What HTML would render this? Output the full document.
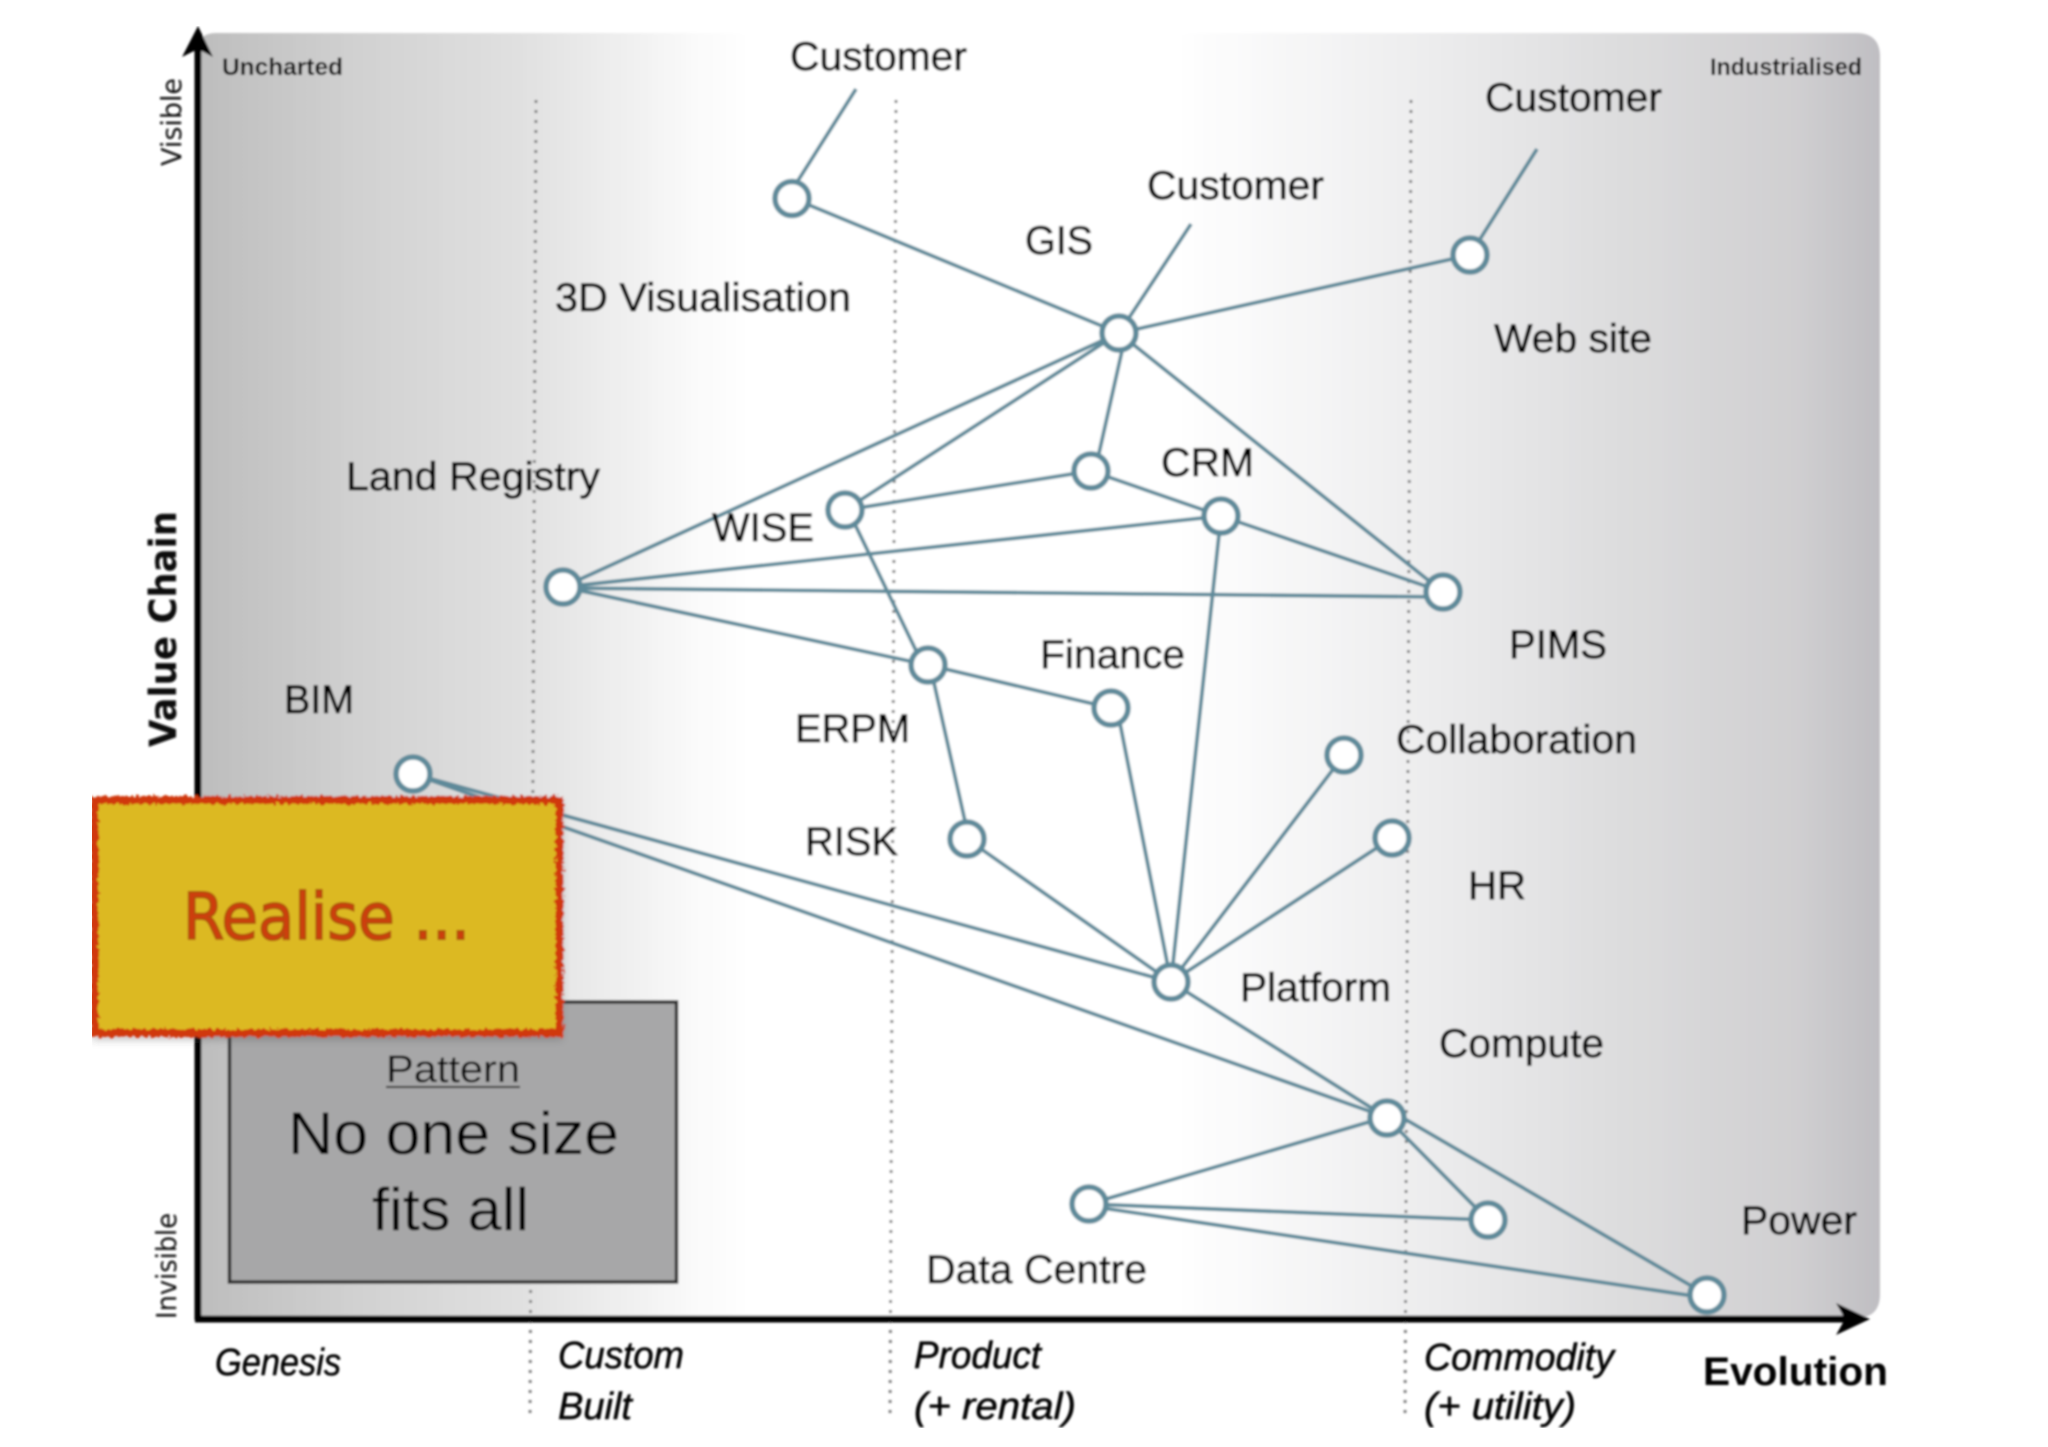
<!DOCTYPE html>
<html>
<head>
<meta charset="utf-8">
<title>Value Chain Map</title>
<style>
html,body{margin:0;padding:0;background:#fff;width:2048px;height:1447px;overflow:hidden}
svg{display:block}
.l{font-family:"Liberation Sans",sans-serif;font-size:40px;fill:#000;stroke:#000;stroke-width:.7px}
.g{font-family:"Liberation Sans",sans-serif;fill:#000}
.i{font-family:"Liberation Sans",sans-serif;font-style:italic;font-size:38px;fill:#000;stroke:#000;stroke-width:.5px}
.d{font-family:"DejaVu Sans",sans-serif;fill:#111}
</style>
</head>
<body>
<svg width="2048" height="1447" viewBox="0 0 2048 1447" xmlns="http://www.w3.org/2000/svg">
<defs>
<linearGradient id="bg" gradientUnits="userSpaceOnUse" x1="198" y1="0" x2="1880" y2="0">
<stop offset="0" stop-color="#bdbdbd"/>
<stop offset="0.1" stop-color="#d2d2d2"/>
<stop offset="0.2" stop-color="#e2e2e2"/>
<stop offset="0.3" stop-color="#fbfbfb"/>
<stop offset="0.33" stop-color="#ffffff"/>
<stop offset="0.58" stop-color="#ffffff"/>
<stop offset="0.72" stop-color="#eeeeef"/>
<stop offset="0.85" stop-color="#dcdcdd"/>
<stop offset="0.95" stop-color="#d0cfd1"/>
<stop offset="1" stop-color="#bfbec2"/>
</linearGradient>
<filter id="blur" x="0" y="0" width="100%" height="100%"><feGaussianBlur stdDeviation="1"/></filter>
<filter id="rough" x="-5%" y="-5%" width="110%" height="110%">
<feTurbulence type="fractalNoise" baseFrequency="0.25" numOctaves="2" seed="4"/>
<feDisplacementMap in="SourceGraphic" scale="7"/>
</filter>
<filter id="shadow" x="-5%" y="-5%" width="110%" height="110%"><feGaussianBlur stdDeviation="4"/></filter>
</defs>
<g filter="url(#blur)">
<path d="M198 50 Q198 33 216 33 L1856 33 Q1880 33 1880 57 L1880 1294 Q1880 1318 1856 1318 L198 1318 Z" fill="url(#bg)"/>

<g stroke="#7f7f7f" stroke-width="3" stroke-dasharray="3 7" fill="none">
<line x1="536" y1="100" x2="530" y2="1420"/>
<line x1="896" y1="100" x2="890" y2="1420"/>
<line x1="1411" y1="100" x2="1405" y2="1420"/>
</g>

<g stroke="#000" fill="#000">
<line x1="198" y1="1320" x2="198" y2="45" stroke-width="7"/>
<line x1="195" y1="1319" x2="1850" y2="1319" stroke-width="7"/>
<path d="M198 26 L213 57 L198 49 L182 57 Z" stroke="none"/>
<path d="M1870 1319 L1836 1335 L1845 1319 L1836 1303 Z" stroke="none"/>
</g>

<g stroke="#5f8a9a" stroke-width="3.800" fill="none">
<line x1="856" y1="89" x2="787" y2="198"/>
<line x1="792" y1="198" x2="1119" y2="333"/>
<line x1="1537" y1="149" x2="1470" y2="255"/>
<line x1="1470" y1="255" x2="1119" y2="333"/>
<line x1="1191" y1="224" x2="1119" y2="333"/>
<line x1="1126" y1="333" x2="1095" y2="471"/>
<line x1="1119" y1="333" x2="1443" y2="592"/>
<line x1="1119" y1="333" x2="845" y2="510"/>
<line x1="1119" y1="333" x2="563" y2="587"/>
<line x1="845" y1="510" x2="1091" y2="471"/>
<line x1="1091" y1="471" x2="1221" y2="516"/>
<line x1="1221" y1="516" x2="1443" y2="592"/>
<line x1="563" y1="587" x2="1221" y2="516"/>
<line x1="563" y1="588" x2="1443" y2="597"/>
<line x1="563" y1="587" x2="928" y2="665"/>
<line x1="848" y1="510" x2="923" y2="665"/>
<line x1="928" y1="665" x2="1111" y2="708"/>
<line x1="930" y1="665" x2="969" y2="839"/>
<line x1="967" y1="839" x2="1171" y2="982"/>
<line x1="1117" y1="708" x2="1171" y2="982"/>
<line x1="1221" y1="516" x2="1171" y2="982"/>
<line x1="1344" y1="755" x2="1171" y2="982"/>
<line x1="1392" y1="838" x2="1171" y2="982"/>
<line x1="413" y1="774" x2="1171" y2="982"/>
<line x1="413" y1="774" x2="1386" y2="1117"/>
<line x1="1171" y1="982" x2="1386" y2="1117"/>
<line x1="1089" y1="1204" x2="1386" y2="1117"/>
<line x1="1386" y1="1117" x2="1488" y2="1220"/>
<line x1="1386" y1="1108" x2="1707" y2="1295"/>
<line x1="1089" y1="1204" x2="1488" y2="1220"/>
<line x1="1089" y1="1206" x2="1707" y2="1298"/>
</g>

<g fill="#fff" stroke="#5f8a9a" stroke-width="5.500">
<circle cx="792" cy="198.500" r="17"/>
<circle cx="1470" cy="255" r="17"/>
<circle cx="1119" cy="333" r="17"/>
<circle cx="1091" cy="471" r="17"/>
<circle cx="1221" cy="516" r="17"/>
<circle cx="845" cy="510" r="17"/>
<circle cx="563" cy="587" r="17"/>
<circle cx="1443" cy="592" r="17"/>
<circle cx="928" cy="665" r="17"/>
<circle cx="1111" cy="708" r="17"/>
<circle cx="1344" cy="755" r="17"/>
<circle cx="413" cy="774" r="17"/>
<circle cx="967" cy="839" r="17"/>
<circle cx="1392" cy="838" r="17"/>
<circle cx="1171" cy="982" r="17"/>
<circle cx="1387" cy="1118" r="17"/>
<circle cx="1089" cy="1204" r="17"/>
<circle cx="1488" cy="1220" r="17"/>
<circle cx="1707" cy="1295" r="17"/>
</g>

<g class="l">
<text class="l" x="790" y="70" textLength="177" lengthAdjust="spacingAndGlyphs">Customer</text>
<text class="l" x="1485" y="111" textLength="177" lengthAdjust="spacingAndGlyphs">Customer</text>
<text class="l" x="1147" y="199" textLength="177" lengthAdjust="spacingAndGlyphs">Customer</text>
<text class="l" x="1025" y="254" textLength="68" lengthAdjust="spacingAndGlyphs">GIS</text>
<text class="l" x="555" y="311" textLength="296" lengthAdjust="spacingAndGlyphs">3D Visualisation</text>
<text class="l" x="1494" y="352" textLength="158" lengthAdjust="spacingAndGlyphs">Web site</text>
<text class="l" x="346" y="490" textLength="254" lengthAdjust="spacingAndGlyphs">Land Registry</text>
<text class="l" x="1161" y="476" textLength="93" lengthAdjust="spacingAndGlyphs">CRM</text>
<text class="l" x="712" y="541" textLength="102" lengthAdjust="spacingAndGlyphs">WISE</text>
<text class="l" x="1509" y="658" textLength="98" lengthAdjust="spacingAndGlyphs">PIMS</text>
<text class="l" x="1040" y="668" textLength="145" lengthAdjust="spacingAndGlyphs">Finance</text>
<text class="l" x="284" y="713" textLength="70" lengthAdjust="spacingAndGlyphs">BIM</text>
<text class="l" x="795" y="742" textLength="115" lengthAdjust="spacingAndGlyphs">ERPM</text>
<text class="l" x="1396" y="753" textLength="241" lengthAdjust="spacingAndGlyphs">Collaboration</text>
<text class="l" x="805" y="855" textLength="93" lengthAdjust="spacingAndGlyphs">RISK</text>
<text class="l" x="1468" y="899" textLength="58" lengthAdjust="spacingAndGlyphs">HR</text>
<text class="l" x="1240" y="1001" textLength="151" lengthAdjust="spacingAndGlyphs">Platform</text>
<text class="l" x="1439" y="1057" textLength="165" lengthAdjust="spacingAndGlyphs">Compute</text>
<text class="l" x="926" y="1283" textLength="221" lengthAdjust="spacingAndGlyphs">Data Centre</text>
<text class="l" x="1741" y="1234" textLength="116" lengthAdjust="spacingAndGlyphs">Power</text>
</g>

<text class="g" x="222" y="75" font-size="24" font-weight="bold" textLength="121" lengthAdjust="spacingAndGlyphs">Uncharted</text>
<text class="g" x="1710" y="75" font-size="24" font-weight="bold" textLength="152" lengthAdjust="spacingAndGlyphs">Industrialised</text>

<text class="d" transform="translate(181,166) rotate(-90)" font-size="28" textLength="88" lengthAdjust="spacingAndGlyphs">Visible</text>
<text class="d" transform="translate(176,1319) rotate(-90)" font-size="28" textLength="106" lengthAdjust="spacingAndGlyphs">Invisible</text>
<text class="d" transform="translate(176,747) rotate(-90)" font-size="37" font-weight="bold" textLength="236" lengthAdjust="spacingAndGlyphs">Value Chain</text>

<text class="i" x="215" y="1375" textLength="126" lengthAdjust="spacingAndGlyphs">Genesis</text>
<text class="i" x="558" y="1368" textLength="126" lengthAdjust="spacingAndGlyphs">Custom</text>
<text class="i" x="558" y="1419" textLength="74" lengthAdjust="spacingAndGlyphs">Built</text>
<text class="i" x="914" y="1368" textLength="127" lengthAdjust="spacingAndGlyphs">Product</text>
<text class="i" x="914" y="1419" textLength="162" lengthAdjust="spacingAndGlyphs">(+ rental)</text>
<text class="i" x="1424" y="1370" textLength="190" lengthAdjust="spacingAndGlyphs">Commodity</text>
<text class="i" x="1424" y="1419" textLength="152" lengthAdjust="spacingAndGlyphs">(+ utility)</text>
<text class="g" x="1703" y="1385" font-size="40" font-weight="bold" textLength="185" lengthAdjust="spacingAndGlyphs">Evolution</text>

<rect x="229.500" y="1002" width="447" height="280" fill="#a7a7a8" stroke="#2f2f2f" stroke-width="3.500"/>
<text class="g" x="386" y="1082" font-size="38" textLength="134" lengthAdjust="spacingAndGlyphs">Pattern</text>
<line x1="386" y1="1087" x2="520" y2="1087" stroke="#222" stroke-width="2"/>
<text class="g" x="288" y="1154" font-size="60" textLength="331" lengthAdjust="spacingAndGlyphs">No one size</text>
<text class="g" x="372" y="1230" font-size="60" textLength="157" lengthAdjust="spacingAndGlyphs">fits all</text>

<rect x="92" y="802" width="470" height="238" fill="#555" opacity="0.35" filter="url(#shadow)"/>
<g filter="url(#rough)">
<rect x="94.500" y="800" width="465" height="233" fill="#dcb920" stroke="#d0380f" stroke-width="8"/>
</g>
<text x="183" y="939" font-family="'DejaVu Sans',sans-serif" font-size="64" fill="#cf3e0e" stroke="#b04c0e" stroke-width="2" textLength="287" lengthAdjust="spacingAndGlyphs">Realise ...</text>
</g>
</svg>
</body>
</html>
